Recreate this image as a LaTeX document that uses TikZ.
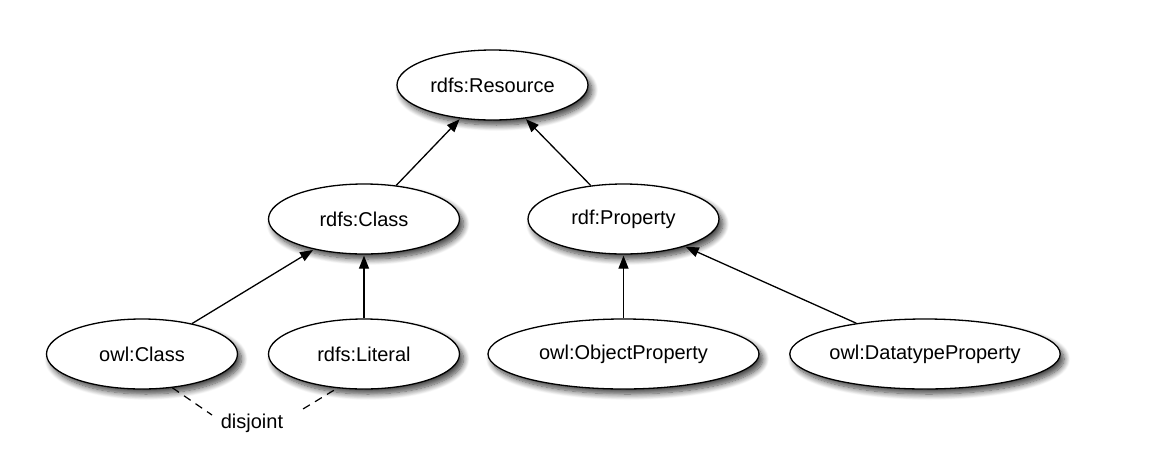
\documentclass[tikz,border=0pt]{standalone}
\usepackage{fontspec}
\setmainfont{Liberation Sans}
\usetikzlibrary{arrows.meta,shapes.geometric,shadows.blur}
\tikzset{
  cls/.style={ellipse, draw=black, line width=1.3pt, fill=white, inner sep=0pt,
    minimum width=191pt, minimum height=70pt, font=\fontsize{20}{24}\selectfont,
    blur shadow={shadow xshift=4pt, shadow yshift=-5pt, shadow blur steps=10, shadow blur radius=6pt, shadow opacity=75}},
  sub/.style={-{Triangle[length=13pt,width=10pt]}, line width=1.3pt, shorten >=1pt},
  dis/.style={dashed, dash pattern=on 8pt off 6pt, line width=1.2pt}
}
\begin{document}
\begin{tikzpicture}[x=1pt,y=-1pt]
\useasboundingbox (0,0) rectangle (1152,464);
\node[cls] (res) at (492.5,85) {rdfs:Resource};
\node[cls] (rcl) at (364,219) {rdfs:Class};
\node[cls] (prop) at (623.5,219) {rdf:Property};
\node[cls] (owlc) at (142,354) {owl:Class};
\node[cls] (lit) at (364,354) {rdfs:Literal};
\node[cls, minimum width=271pt] (op) at (623.5,354) {owl:ObjectProperty};
\node[cls, minimum width=268pt] (dp) at (925,354) {owl:DatatypeProperty};
\node[font=\fontsize{20}{24}\selectfont] (dj) at (252,423) {disjoint};
\coordinate (d1) at (212,415);
\coordinate (d2) at (298,412);
\draw[sub] (rcl) -- (res);
\draw[sub] (prop) -- (res);
\draw[sub] (owlc) -- (rcl);
\draw[sub] (lit) -- (rcl);
\draw[sub] (op) -- (prop);
\draw[sub] (dp) -- (prop);
\draw[dis] (owlc.-48) -- (d1);
\draw[dis, shorten <=4pt] (lit.-128) -- (d2);
\end{tikzpicture}
\end{document}
